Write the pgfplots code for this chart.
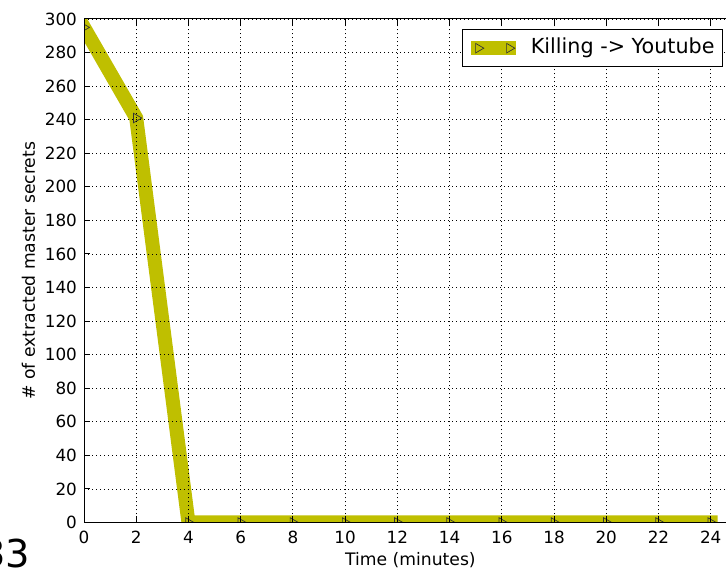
\documentclass[border=0pt]{standalone}
\usepackage{fontspec}
\setmainfont{DejaVu Sans}
\usepackage{pgfplots}
\pgfplotsset{compat=1.18}
\definecolor{olivey}{RGB}{191,191,0}
\begin{document}
\begin{tikzpicture}
\begin{axis}[name=ax,
  scale only axis, width=326.4pt, height=251.75pt,
  xmin=0, xmax=25, ymin=0, ymax=300,
  xtick={0,2,...,24}, ytick={0,20,...,300},
  tick align=inside, major tick length=3pt,
  tick style={black, line width=0.5pt},
  axis line style={line width=0.5pt},
  grid=major, grid style={black, line width=0.4pt, dash pattern=on 0.5pt off 1.5pt},
  axis on top,
  clip marker paths=true,
  /pgf/number format/assume math mode=true,
  ticklabel style={font=\fontsize{8.4}{10}\selectfont},
  xticklabel style={inner sep=0pt, yshift=-4.1pt},
  yticklabel style={inner sep=0pt, xshift=-3.35pt},
  xlabel={Time (minutes)}, ylabel={\# of extracted master secrets},
  label style={font=\fontsize{8.6}{10}\selectfont},
  xlabel style={at={(axis description cs:0.5,-0.0858)}, anchor=base, inner sep=0pt},
  ylabel style={at={(axis description cs:-0.0751,0.5)}, anchor=base, inner sep=0pt},
  legend style={at={(0.9794,0.9796)}, anchor=north east, draw=black, line width=0.5pt, fill=white,
    font=\fontsize{10.35}{12}\selectfont, inner xsep=4.2pt, inner ysep=4.2pt,
    nodes={inner sep=0pt, text height=0.76em, text depth=0.24em},
    /tikz/every odd column/.append style={column sep=7.25pt}},
  legend image code/.code={\draw[mark repeat=1,#1] plot coordinates {(0pt,0pt) (15.5pt,0pt)};},
]
\addplot[color=olivey, line width=7pt, line cap=rect, line join=miter,
  mark=triangle*, mark size=2.75pt,
  mark options={solid, rotate=-90, fill=olivey, draw=black!80, line width=0.35pt}]
  coordinates {(0,295) (2,241) (4,0) (6,0) (8,0) (10,0) (12,0) (14,0) (16,0) (18,0) (20,0) (22,0) (24,0)};
\addlegendentry{Killing -> Youtube}
\end{axis}
\node[anchor=base east, inner sep=0pt, font=\fontsize{19.2}{22}\selectfont] at ([shift={(-26.7pt,-22.5pt)}]ax.south west) {33};
\pgfresetboundingbox
\path ([shift={(-42pt,-24.25pt)}]ax.south west) rectangle ++(363pt,285.5pt);
\end{tikzpicture}
\end{document}
